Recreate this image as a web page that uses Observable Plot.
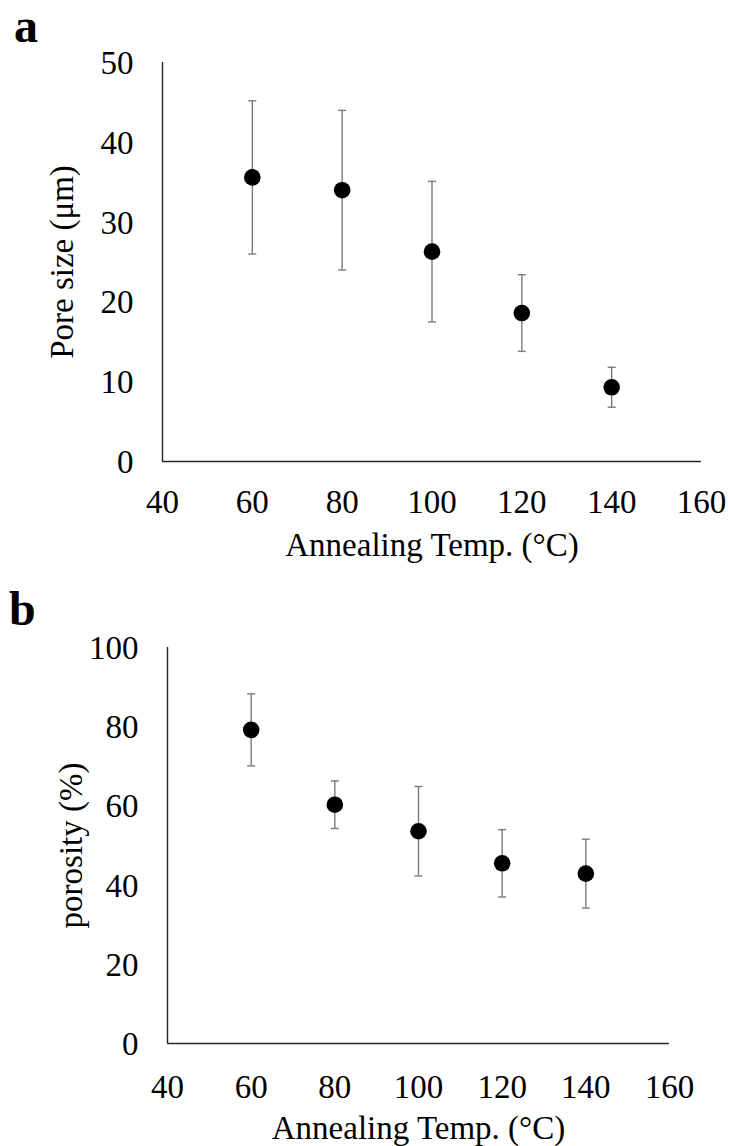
<!DOCTYPE html>
<html>
<head>
<meta charset="utf-8">
<script src="https://cdn.jsdelivr.net/npm/d3@7"></script>
<script src="https://cdn.jsdelivr.net/npm/@observablehq/plot@0.6"></script>
<style>
  html, body { margin: 0; padding: 0; background: #fff; }
  .panel { position: relative; width: 730px; }
  .panel svg { display: block; }
  .panel svg text { font-family: "Liberation Serif", "Times New Roman", serif !important; }
  .tag { position: absolute; font-family: "Liberation Serif", serif; font-weight: bold; font-size: 48px; line-height: 1; color: #000; }
</style>
</head>
<body>
<div id="pa" class="panel"><div class="tag" style="left:14px;top:2px;">a</div></div>
<div id="pb" class="panel"><div class="tag" style="left:9px;top:5px;">b</div></div>
<script>
// ---- data ----
const temps = [60, 80, 100, 120, 140];
const poreSize = [35.6, 34.0, 26.3, 18.6, 9.3];
const poreSizeErr = [9.6, 10.0, 8.8, 4.8, 2.5];
const porosity = [79.2, 60.3, 53.6, 45.5, 42.9];
const porosityErr = [9.1, 6.0, 11.3, 8.5, 8.7];
const xTicks = [40, 60, 80, 100, 120, 140, 160];
const yTicksA = [0, 10, 20, 30, 40, 50];
const yTicksB = [0, 20, 40, 60, 80, 100];

const font = "Liberation Serif";
const capSymbol = {
  draw(context, size) {
    const r = Math.sqrt(size / Math.PI);
    context.moveTo(-r, 0);
    context.lineTo(r, 0);
  }
};

function rows(mean, err) {
  return temps.map((t, i) => ({t, v: mean[i], lo: mean[i] - err[i], hi: mean[i] + err[i]}));
}

function panel(cfg) {
  const data = rows(cfg.mean, cfg.err);
  return Plot.plot({
    width: 730,
    height: cfg.height,
    marginTop: cfg.mt, marginLeft: cfg.ml, marginRight: cfg.mr, marginBottom: cfg.mb,
    style: {fontFamily: font, fontSize: "33px", color: "#000", background: "#fff", overflow: "visible"},
    x: {domain: [40, 160]},
    y: {domain: cfg.yDomain},
    marks: [
      Plot.axisX({ticks: xTicks, tickSize: 0, tickPadding: cfg.xPad, tickFormat: d => String(d),
        fontFamily: font, fontSize: 33,
        label: "Annealing Temp. (°C)", labelAnchor: "center", labelArrow: "none", labelOffset: cfg.xLabelOffset}),
      Plot.axisY({ticks: cfg.yTicks, tickSize: 0, tickPadding: 29, tickFormat: d => String(d), dy: 1,
        fontFamily: font, fontSize: 33,
        label: cfg.yLabel, labelAnchor: "center", labelArrow: "none", labelOffset: cfg.yLabelOffset}),
      Plot.ruleY([cfg.yDomain[0]], {stroke: "#262626", strokeWidth: 1.4}),
      Plot.ruleX([40], {stroke: "#262626", strokeWidth: 1.4}),
      Plot.ruleX(data, {x: "t", y1: "lo", y2: "hi", stroke: "#7a7a7a", strokeWidth: 1.4}),
      Plot.dot(data, {x: "t", y: "hi", symbol: capSymbol, r: 4, stroke: "#7a7a7a", strokeWidth: 1.4, fill: "none"}),
      Plot.dot(data, {x: "t", y: "lo", symbol: capSymbol, r: 4, stroke: "#7a7a7a", strokeWidth: 1.4, fill: "none"}),
      Plot.dot(data, {x: "t", y: "v", r: 8.3, fill: "#000", stroke: "none"})
    ]
  });
}

document.getElementById("pa").appendChild(panel({
  height: 580, mt: 62, ml: 162, mr: 29, mb: 119,
  mean: poreSize, err: poreSizeErr, yDomain: [0, 50], yTicks: yTicksA,
  xPad: 28, xLabelOffset: 94, yLabel: "Pore size (μm)", yLabelOffset: 113
}));
document.getElementById("pb").appendChild(panel({
  height: 566, mt: 67, ml: 167, mr: 61, mb: 103,
  mean: porosity, err: porosityErr, yDomain: [0, 100], yTicks: yTicksB,
  xPad: 31, xLabelOffset: 95, yLabel: "porosity (%)", yLabelOffset: 109
}));
</script>
</body>
</html>
